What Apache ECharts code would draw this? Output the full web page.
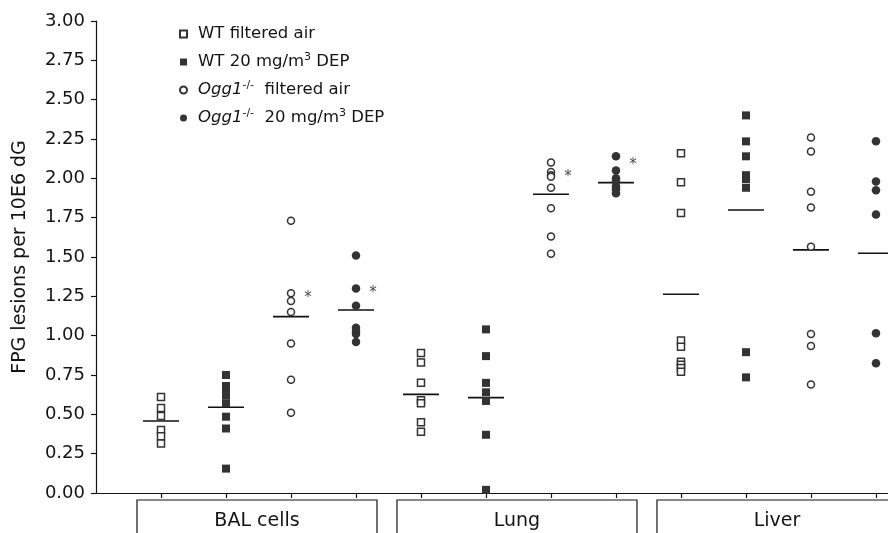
<!DOCTYPE html>
<html>
<head>
<meta charset="utf-8">
<script src="https://cdn.jsdelivr.net/npm/echarts@6/dist/echarts.min.js"></script>
<style>
html, body { margin: 0; padding: 0; background: #fff; }
#chart { width: 888px; height: 533px; }
</style>
</head>
<body>
<div id="chart"></div>
<script>
// tissue groups along the bottom, each holding the four conditions
var groups = ['BAL cells', 'Lung', 'Liver'];
var conditions = ['WT filtered air', 'WT 20 mg/m3 DEP', 'Ogg1-/- filtered air', 'Ogg1-/- 20 mg/m3 DEP'];
var legendLabels = [
    '{g| }{t|WT filtered air}',
    '{g| }{t|WT 20 mg/m}{s|3}{t| DEP}',
    '{g| }{i|Ogg1}{s|-/-}{t|  filtered air}',
    '{g| }{i|Ogg1}{s|-/-}{t|  20 mg/m}{s|3}{t| DEP}'
];

// FPG lesions per 10E6 dG
var balWtAir = [0.61, 0.54, 0.49, 0.40, 0.36, 0.315];
var balWtDep = [0.75, 0.68, 0.65, 0.62, 0.57, 0.485, 0.41, 0.155];
var balOggAir = [1.73, 1.27, 1.22, 1.15, 0.95, 0.72, 0.51];
var balOggDep = [1.51, 1.30, 1.19, 1.05, 1.025, 1.01, 0.96];
var lungWtAir = [0.89, 0.83, 0.70, 0.59, 0.57, 0.45, 0.39];
var lungWtDep = [1.04, 0.87, 0.70, 0.64, 0.585, 0.37, 0.02];
var lungOggAir = [2.10, 2.04, 2.02, 2.01, 1.94, 1.81, 1.63, 1.52];
var lungOggDep = [2.14, 2.05, 2.00, 1.98, 1.95, 1.93, 1.905];
var liverWtAir = [2.16, 1.975, 1.78, 0.97, 0.93, 0.835, 0.815, 0.795, 0.77];
var liverWtDep = [2.40, 2.235, 2.14, 2.02, 1.995, 1.94, 0.895, 0.735];
var liverOggAir = [2.26, 2.17, 1.915, 1.815, 1.565, 1.01, 0.935, 0.69];
var liverOggDep = [2.235, 1.98, 1.925, 1.77, 1.015, 0.825];

// group means (horizontal bars)
var balMeans = [0.458, 0.545, 1.121, 1.163];
var lungMeans = [0.627, 0.606, 1.899, 1.973];
var liverMeans = [1.263, 1.799, 1.545, 1.524];

// significance asterisks: slot index and height
var sigSlots = [2, 3, 6, 7];
var sigValues = [1.26, 1.29, 2.03, 2.10];

var values = [
    [balWtAir, balWtDep, balOggAir, balOggDep],
    [lungWtAir, lungWtDep, lungOggAir, lungOggDep],
    [liverWtAir, liverWtDep, liverOggAir, liverOggDep]
];
var means = [balMeans, lungMeans, liverMeans];

var FONT = '"DejaVu Sans", "Liberation Sans", Arial, sans-serif';
var INK = '#141414';
var markStyles = [
    { symbol: 'rect', symbolSize: 7, itemStyle: { color: '#fff', borderColor: '#333', borderWidth: 1.5, opacity: 1 } },
    { symbol: 'rect', symbolSize: 8, itemStyle: { color: '#333', opacity: 1 } },
    { symbol: 'circle', symbolSize: 7, itemStyle: { color: '#fff', borderColor: '#333', borderWidth: 1.5, opacity: 1 } },
    { symbol: 'circle', symbolSize: 8.5, itemStyle: { color: '#333', opacity: 1 } }
];

var slots = [];
for (var i = 0; i < groups.length * conditions.length; i++) slots.push(i);

var series = conditions.map(function (name, c) {
    var data = [];
    groups.forEach(function (g, gi) {
        values[gi][c].forEach(function (v) {
            data.push([gi * 4 + c, v]);
        });
    });
    return {
        name: name,
        type: 'scatter',
        symbol: markStyles[c].symbol,
        symbolSize: markStyles[c].symbolSize,
        itemStyle: markStyles[c].itemStyle,
        data: data,
        z: 3
    };
});

var meanData = [];
groups.forEach(function (g, gi) {
    means[gi].forEach(function (m, c) {
        meanData.push([gi * 4 + c, m]);
    });
});
series.push({
    name: 'mean',
    type: 'scatter',
    symbol: 'rect',
    symbolSize: [36, 1.6],
    itemStyle: { color: '#111', opacity: 1 },
    data: meanData,
    z: 2
});

series.push({
    name: 'sig',
    type: 'scatter',
    symbolSize: 0,
    data: sigSlots.map(function (s, k) { return [s, sigValues[k]]; }),
    label: {
        show: true,
        position: 'inside',
        offset: [17, 3],
        formatter: '*',
        fontSize: 15,
        fontFamily: FONT,
        color: INK
    },
    z: 4
});

// boxes with the tissue names under the axis
series.push({
    type: 'custom',
    silent: true,
    clip: false,
    data: groups.map(function (g, gi) { return [gi * 4, gi * 4 + 3, 0]; }),
    encode: { x: [0, 1], y: 2 },
    renderItem: function (params, api) {
        var a = api.coord([api.value(0), 0]);
        var b = api.coord([api.value(1), 0]);
        var x0 = a[0] - 24, x1 = b[0] + 21, y0 = a[1] + 7;
        return {
            type: 'group',
            children: [
                {
                    type: 'rect',
                    shape: { x: x0, y: y0, width: x1 - x0, height: 60 },
                    style: { fill: 'none', stroke: INK, lineWidth: 1.2 }
                },
                {
                    type: 'text',
                    style: {
                        text: groups[params.dataIndex],
                        x: (x0 + x1) / 2,
                        y: y0 + 21,
                        align: 'center',
                        verticalAlign: 'middle',
                        fontSize: 19,
                        fontFamily: FONT,
                        fill: INK
                    }
                }
            ]
        };
    }
});

var chart = echarts.init(document.getElementById('chart'));
chart.setOption({
    animation: false,
    backgroundColor: '#fff',
    grid: { left: 96, right: 0, top: 21, bottom: 40, containLabel: false },
    legend: {
        data: conditions.map(function (name, c) {
            return { name: name, icon: markStyles[c].symbol };
        }),
        orient: 'vertical',
        left: 174,
        top: 20.5,
        itemWidth: 7,
        itemHeight: 7,
        itemGap: 9.5,
        selectedMode: false,
        formatter: function (name) {
            return legendLabels[conditions.indexOf(name)];
        },
        textStyle: {
            color: INK,
            rich: {
                g: { width: 6, fontSize: 10, lineHeight: 20 },
                t: { fontSize: 16.5, fontFamily: FONT, color: INK, lineHeight: 20 },
                i: { fontSize: 16.5, fontFamily: FONT, fontStyle: 'italic', color: INK, lineHeight: 20 },
                s: { fontSize: 11, fontFamily: FONT, color: INK, verticalAlign: 'top', lineHeight: 20 }
            }
        }
    },
    xAxis: {
        type: 'value',
        min: -1,
        max: 11.185,
        interval: 1,
        axisLine: { show: true, onZero: false, lineStyle: { color: INK, width: 1.2 } },
        axisTick: { show: true, length: 5, customValues: slots, lineStyle: { color: INK, width: 1.2 } },
        axisLabel: { show: false },
        splitLine: { show: false }
    },
    yAxis: {
        type: 'value',
        min: 0,
        max: 3,
        interval: 0.25,
        name: 'FPG lesions per 10E6 dG',
        nameLocation: 'middle',
        nameGap: 66,
        nameTextStyle: { fontSize: 19, fontFamily: FONT, color: INK },
        axisLine: { show: true, onZero: false, lineStyle: { color: INK, width: 1.2 } },
        axisTick: { show: true, length: 5, lineStyle: { color: INK, width: 1.2 } },
        axisLabel: {
            margin: 11,
            fontSize: 18,
            fontFamily: FONT,
            color: INK,
            formatter: function (v) { return v.toFixed(2); }
        },
        splitLine: { show: false }
    },
    series: series
});
</script>
</body>
</html>
